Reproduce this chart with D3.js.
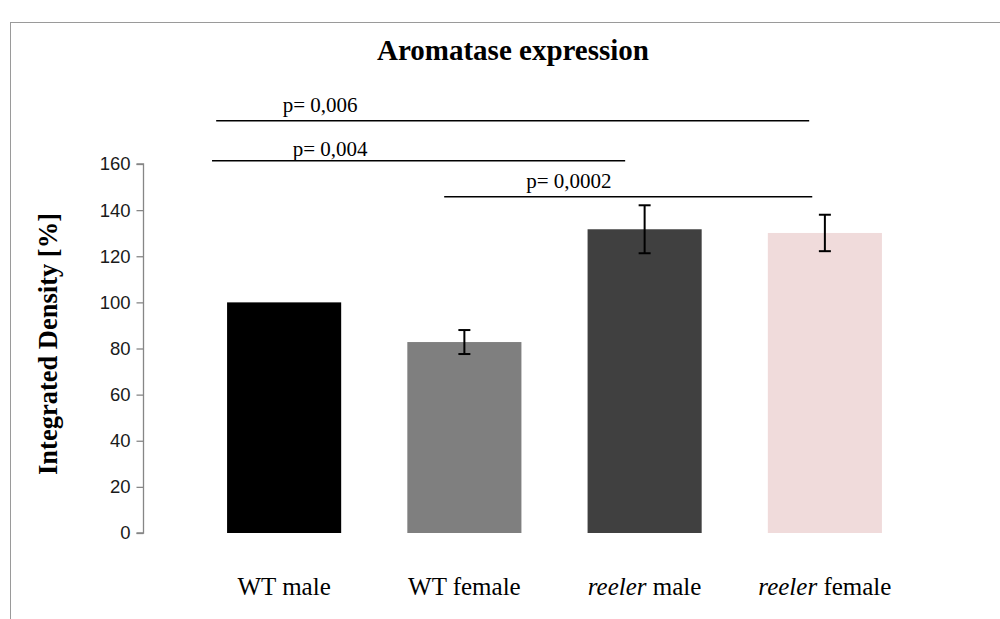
<!DOCTYPE html>
<html>
<head>
<meta charset="utf-8">
<script src="https://cdn.jsdelivr.net/npm/d3@7"></script>
<style>
  html, body { margin: 0; padding: 0; background: #fff; }
  svg { display: block; }
</style>
</head>
<body>
<svg id="chart" width="1000" height="619"></svg>
<script>
// ---- data ----
const categories = ["WT male", "WT female", "reeler male", "reeler female"];
const italicPart = ["", "", "reeler", "reeler"];
const values = [100, 82.8, 131.7, 130.1];
const errors = [0, 5.2, 10.4, 7.9];
const colors = ["#000000", "#7f7f7f", "#404040", "#f0dbdb"];
const yTicks = [0, 20, 40, 60, 80, 100, 120, 140, 160];

// significance annotations (positions in category-index units and value units)
const sigLabels = ["p= 0,006", "p= 0,004", "p= 0,0002"];
const sigFrom = [-0.377, -0.40, 0.888];
const sigTo = [2.913, 1.892, 2.93];
const sigLevel = [178.7, 161.4, 145.8];
const sigTextAt = [0.20, 0.255, 1.58];

const svg = d3.select("#chart");
const W = 1000, H = 619;

// frame
svg.append("rect")
  .attr("x", 10.5).attr("y", 22.5)
  .attr("width", W).attr("height", H)
  .attr("fill", "none").attr("stroke", "#9a9a9a").attr("stroke-width", 1);

const x = d3.scaleBand().domain(categories).range([194, 915])
  .paddingInner(0.367).paddingOuter(0.1835);
const idx = d3.scaleLinear().domain([0, 3])
  .range([x(categories[0]) + x.bandwidth() / 2, x(categories[3]) + x.bandwidth() / 2]);
const y = d3.scaleLinear().domain([0, 160]).range([533, 164]);

// y axis
const yAxis = svg.append("g")
  .attr("transform", "translate(143.5,0)")
  .call(d3.axisLeft(y).tickValues(yTicks).tickSize(7).tickPadding(6).tickFormat(d3.format("d")));
yAxis.selectAll("path, line").attr("stroke", "#868686").attr("stroke-width", 1.3);
yAxis.select(".domain").attr("d", `M-7,${y(0)}H0V${y(160)}H-7`);
yAxis.selectAll("text")
  .attr("font-family", "'Liberation Sans', Arial, sans-serif")
  .attr("font-size", 18.5).attr("fill", "#1a1a1a");

// bars
svg.append("g").selectAll("rect")
  .data(categories)
  .join("rect")
  .attr("x", d => x(d))
  .attr("width", x.bandwidth())
  .attr("y", (d, i) => y(values[i]))
  .attr("height", (d, i) => y(0) - y(values[i]))
  .attr("fill", (d, i) => colors[i]);

// error bars
const eb = svg.append("g").attr("stroke", "#000").attr("stroke-width", 2);
categories.forEach((c, i) => {
  if (!errors[i]) return;
  const cx = x(c) + x.bandwidth() / 2;
  const hi = y(values[i] + errors[i]), lo = y(values[i] - errors[i]);
  eb.append("line").attr("x1", cx).attr("x2", cx).attr("y1", hi).attr("y2", lo);
  eb.append("line").attr("x1", cx - 6).attr("x2", cx + 6).attr("y1", hi).attr("y2", hi);
  eb.append("line").attr("x1", cx - 6).attr("x2", cx + 6).attr("y1", lo).attr("y2", lo);
});

// x labels
categories.forEach((c, i) => {
  const t = svg.append("text")
    .attr("x", x(c) + x.bandwidth() / 2)
    .attr("y", 595)
    .attr("text-anchor", "middle")
    .attr("font-family", "'Liberation Serif', 'Times New Roman', serif")
    .attr("font-size", 25).attr("fill", "#000");
  if (italicPart[i]) {
    t.append("tspan").attr("font-style", "italic").text(italicPart[i]);
    t.append("tspan").text(c.slice(italicPart[i].length));
  } else {
    t.text(c);
  }
});

// significance lines
sigLabels.forEach((lab, i) => {
  svg.append("line")
    .attr("x1", idx(sigFrom[i])).attr("x2", idx(sigTo[i]))
    .attr("y1", y(sigLevel[i])).attr("y2", y(sigLevel[i]))
    .attr("stroke", "#000").attr("stroke-width", 1.5);
  svg.append("text")
    .attr("x", idx(sigTextAt[i]))
    .attr("y", y(sigLevel[i]) - (i === 1 ? 4.5 : 9))
    .attr("text-anchor", "middle")
    .attr("font-family", "'Liberation Serif', 'Times New Roman', serif")
    .attr("font-size", 21).attr("fill", "#000")
    .text(lab);
});

// title
svg.append("text")
  .attr("x", 513).attr("y", 60)
  .attr("text-anchor", "middle")
  .attr("font-family", "'Liberation Serif', 'Times New Roman', serif")
  .attr("font-weight", "bold").attr("font-size", 29)
  .text("Aromatase expression");

// y title
svg.append("text")
  .attr("transform", "translate(57,344) rotate(-90)")
  .attr("text-anchor", "middle")
  .attr("font-family", "'Liberation Serif', 'Times New Roman', serif")
  .attr("font-weight", "bold").attr("font-size", 26.5)
  .text("Integrated Density [%]");
</script>
</body>
</html>
